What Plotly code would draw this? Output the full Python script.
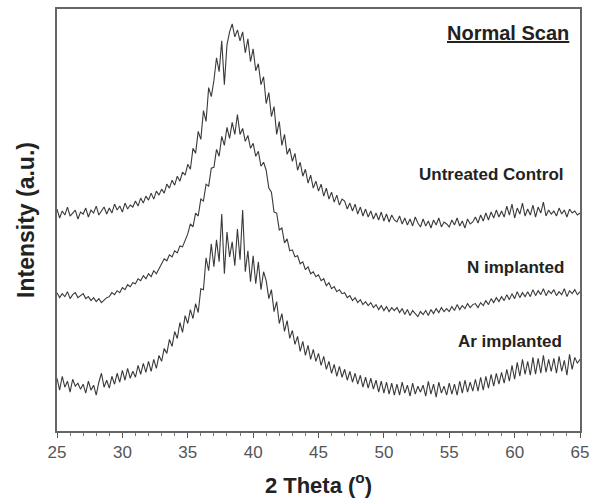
import plotly.graph_objects as go

# 2-theta scan grid (degrees), 0.2 deg step from 25 to 65
two_theta = [round(25 + 0.2 * i, 1) for i in range(201)]

untreated = [
    223, 214, 221, 217, 225, 216, 219, 222, 213, 220,
    218, 224, 215, 222, 219, 226, 217, 221, 225, 218,
    224, 219, 228, 222, 226, 220, 229, 223, 227, 225,
    231, 226, 234, 229, 236, 232, 239, 233, 241, 237,
    243, 239, 248, 244, 252, 247, 256, 251, 260, 257,
    268, 263, 284, 279, 301, 293, 322, 311, 345, 336,
    352, 375, 361, 392, 348, 388, 401, 409, 396, 403,
    392, 401, 380, 394, 371, 384, 362, 369, 348, 356,
    329, 340, 316, 326, 298, 311, 287, 298, 278, 284,
    271, 279, 262, 270, 256, 263, 249, 257, 244, 251,
    241, 248, 236, 244, 233, 240, 230, 237, 227, 233,
    231, 223, 229, 221, 228, 218, 225, 216, 223, 215,
    221, 213, 219, 212, 220, 211, 218, 210, 217, 212,
    210, 216, 208, 214, 207, 213, 206, 215, 209, 205,
    213, 206, 211, 204, 212, 207, 214, 205, 210, 208,
    205, 212, 207, 214, 206, 211, 204, 213, 208, 210,
    215, 209, 217, 211, 219, 212, 220, 214, 222, 215,
    221, 215, 226, 217, 228, 214, 224, 218, 229, 216,
    223, 217, 227, 215, 225, 219, 230, 216, 222, 218,
    221, 216, 224, 218, 222, 215, 223, 219, 221, 217,
    219,
]

n_implanted = [
    139, 134, 138, 135, 140, 133, 137, 139, 134, 136,
    138, 133, 135, 131, 134, 130, 133, 129, 132, 134,
    135, 139, 137, 141, 139, 144, 142, 147, 145, 149,
    148, 153, 151, 156, 153, 158, 155, 161, 158, 163,
    168, 173, 171, 177, 175, 181, 179, 186, 185, 192,
    198, 208, 205, 219, 216, 233, 231, 248, 246, 264,
    265, 283, 276, 296, 287, 305, 294, 310, 298, 318,
    298, 304, 291, 297, 284, 289, 276, 281, 266, 270,
    262, 244, 240, 220, 219, 202, 204, 189, 193, 181,
    182, 175, 176, 168, 170, 162, 165, 158, 160, 155,
    157, 151, 153, 146, 149, 143, 145, 140, 142, 138,
    139, 134, 136, 131, 134, 129, 132, 127, 130, 126,
    129, 124, 127, 122, 126, 121, 125, 120, 124, 121,
    124, 119, 123, 117, 122, 116, 121, 118, 115, 120,
    117, 121, 116, 122, 118, 123, 119, 124, 120, 123,
    120, 125, 121, 127, 122, 126, 123, 128, 124, 127,
    128, 124, 129, 126, 131, 127, 133, 129, 134, 130,
    135, 131, 137, 132, 138, 133, 140, 134, 139, 135,
    140, 135, 142, 136, 141, 137, 143, 136, 141, 138,
    142, 136, 140, 137, 143, 135, 141, 138, 142, 137,
    140,
]

ar_implanted = [
    53, 41, 55, 44, 50, 39, 52, 45, 48, 42,
    47, 38, 50, 41, 46, 36, 49, 58, 44, 51,
    43, 55, 47, 58, 49, 61, 51, 63, 53, 60,
    54, 66, 57, 68, 59, 70, 60, 72, 63, 76,
    70, 83, 78, 92, 85, 100, 93, 109, 99, 116,
    108, 122, 113, 128, 119, 143, 142, 174, 161, 188,
    165, 192, 170, 218, 158, 200, 175, 190, 166, 203,
    172, 222, 160, 181, 150, 176, 148, 170, 142, 160,
    151, 133, 142, 120, 130, 108, 118, 100, 111, 93,
    101, 87, 95, 80, 90, 76, 86, 72, 82, 70,
    78, 66, 75, 62, 70, 58, 67, 55, 65, 54,
    62, 51, 60, 49, 58, 47, 56, 44, 54, 43,
    53, 42, 51, 39, 50, 38, 49, 37, 48, 36,
    47, 36, 49, 38, 46, 35, 48, 37, 45, 39,
    46, 35, 50, 37, 47, 34, 49, 38, 45, 36,
    48, 37, 47, 36, 50, 38, 51, 39, 49, 40,
    52, 40, 54, 41, 55, 43, 57, 45, 58, 47,
    59, 48, 62, 50, 66, 52, 69, 55, 72, 57,
    70, 56, 74, 57, 73, 58, 76, 59, 72, 60,
    73, 58, 75, 60, 71, 56, 77, 62, 74, 68,
    72,
]

series_names = ["Untreated Control", "N implanted", "Ar implanted"]
series_values = [untreated, n_implanted, ar_implanted]
label_pos = [(63.9, 258), (63.9, 164), (63.8, 90)]

line_color = "#3a3a3a"
font_family = "Liberation Sans, Arial, sans-serif"

fig = go.Figure()
for name, vals in zip(series_names, series_values):
    fig.add_trace(go.Scatter(x=two_theta, y=vals, mode="lines", name=name,
                             line=dict(color=line_color, width=1.1)))

for name, (lx, ly) in zip(series_names, label_pos):
    fig.add_annotation(x=lx, y=ly, text=f"<b>{name}</b>", showarrow=False,
                       xanchor="right", yanchor="middle",
                       font=dict(family=font_family, size=17, color="#222"))

fig.add_annotation(x=64.3, y=400, text="<b><u>Normal Scan</u></b>", showarrow=False,
                   xanchor="right", yanchor="middle",
                   font=dict(family=font_family, size=20, color="#222"))

fig.update_layout(
    width=601, height=504,
    margin=dict(l=57, r=21, t=7, b=73),
    paper_bgcolor="white", plot_bgcolor="white",
    showlegend=False,
    font=dict(family=font_family),
    xaxis=dict(
        range=[25, 65], tickmode="linear", tick0=25, dtick=5,
        ticks="outside", ticklen=5, tickwidth=1, tickcolor="#555",
        minor=dict(ticks="outside", dtick=1, ticklen=3, tickcolor="#777"),
        showline=True, linecolor="#666", linewidth=1.5, mirror=True,
        showgrid=False, zeroline=False,
        tickfont=dict(family=font_family, size=17, color="#555"),
        title=dict(text="<b>2 Theta (<sup>o</sup>)</b>", standoff=16,
                   font=dict(family=font_family, size=22, color="#222")),
    ),
    yaxis=dict(
        range=[0, 424], showticklabels=False, ticks="",
        showline=True, linecolor="#666", linewidth=1.5, mirror=True,
        showgrid=False, zeroline=False,
        title=dict(text="<b>Intensity (a.u.)</b>", standoff=14,
                   font=dict(family=font_family, size=23, color="#222")),
    ),
)

fig.write_html("out.html")
